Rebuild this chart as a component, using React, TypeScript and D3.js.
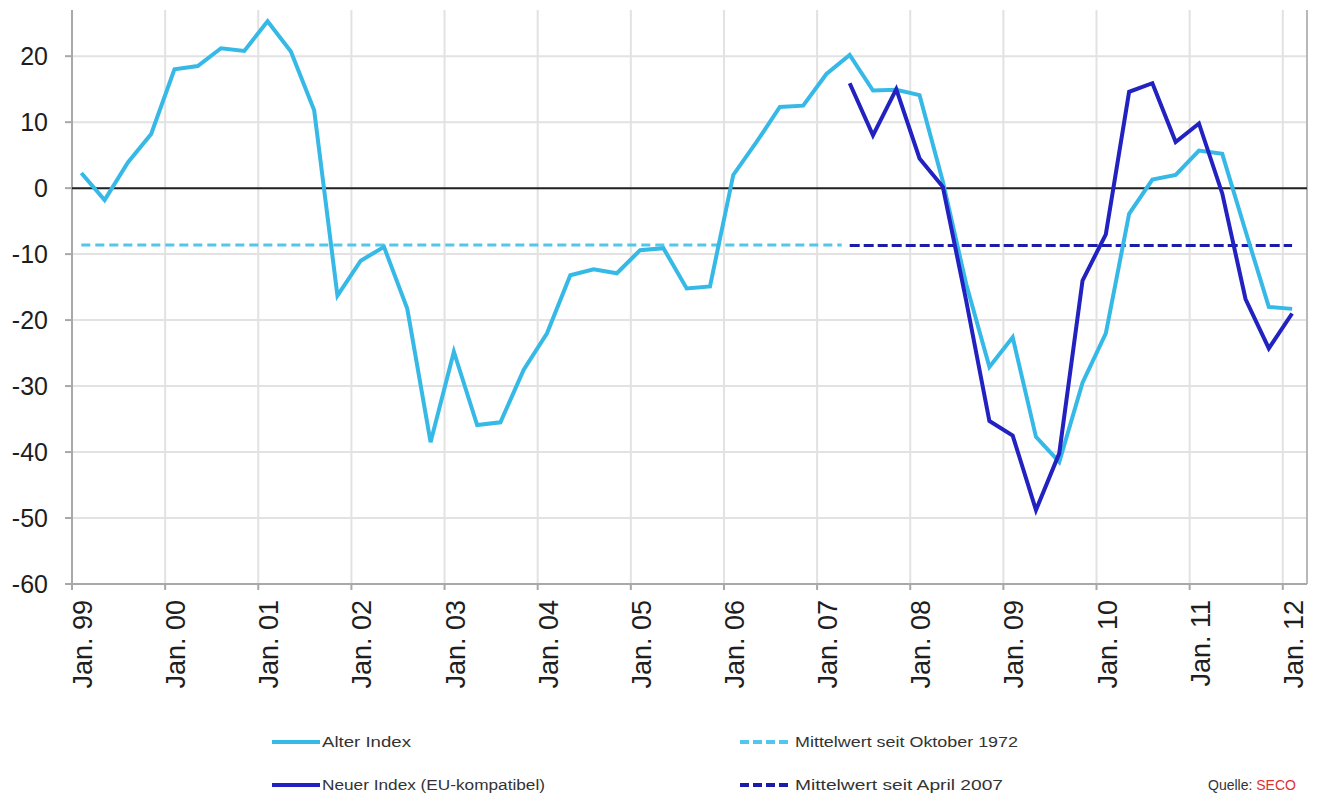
import React from "react";
import * as d3 from "d3";

// Quarterly survey points, Feb 1999 .. Feb 2012 (Feb, May, Aug, Nov)
const firstYear = 1999;
const firstOffset = 0.1; // Feb
const alterIndex = [
  2.3, -1.8, 3.9, 8.2, 18.0, 18.5, 21.2, 20.8, 25.3, 20.7,
  11.8, -16.3, -11.0, -8.9, -18.3, -38.5, -24.8, -35.9, -35.5, -27.5,
  -22.0, -13.2, -12.3, -12.9, -9.4, -9.1, -15.2, -14.9, 2.0, 7.0,
  12.3, 12.5, 17.3, 20.2, 14.8, 14.9, 14.1, 1.0, -14.5, -27.1,
  -22.6, -37.7, -41.5, -29.5, -22.0, -3.9, 1.3, 2.0, 5.7, 5.2,
  -6.5, -18.0, -18.3,
];
const neuerStartIndex = 33; // May 2007
const neuerIndex = [
  15.9, 8.0, 15.0, 4.5, 0.2, -17.0, -35.3, -37.5, -48.8, -40.2,
  -14.0, -7.0, 14.6, 15.9, 7.0, 9.8, -0.8, -16.8, -24.3, -19.0,
];
const meanSince1972 = -8.6;
const meanSince2007 = -8.7;

const yTicks = [20, 10, 0, -10, -20, -30, -40, -50, -60];
const xTickYears = [1999, 2000, 2001, 2002, 2003, 2004, 2005, 2006, 2007, 2008, 2009, 2010, 2011, 2012];
const xTickLabels = ["Jan. 99", "Jan. 00", "Jan. 01", "Jan. 02", "Jan. 03", "Jan. 04", "Jan. 05", "Jan. 06", "Jan. 07", "Jan. 08", "Jan. 09", "Jan. 10", "Jan. 11", "Jan. 12"];

const legendItems = [
  { label: "Alter Index", kind: "alter" },
  { label: "Neuer Index (EU-kompatibel)", kind: "neuer" },
  { label: "Mittelwert seit Oktober 1972", kind: "mean1972" },
  { label: "Mittelwert seit April 2007", kind: "mean2007" },
];

const C_ALTER = "#36b9e6";
const C_NEUER = "#2222c0";
const C_MEAN1 = "#52c6ec";
const C_MEAN2 = "#1c1cab";
const FONT = "'Liberation Sans', Arial, sans-serif";

export default function App() {
  const W = 1319, H = 794;
  const left = 72, right = 1307, top = 10, bottom = 584;

  const x = d3.scaleLinear().domain([1999, 2012.26]).range([left, right]);
  const y = d3.scaleLinear().domain([-60, 27]).range([bottom, top]);

  const tOf = (i: number) => firstYear + firstOffset + 0.25 * i;

  const alterPts: [number, number][] = alterIndex.map((v, i) => [tOf(i), v]);
  const neuerPts: [number, number][] = neuerIndex.map((v, i) => [tOf(i + neuerStartIndex), v]);

  const line = d3.line<[number, number]>().x((d) => x(d[0])).y((d) => y(d[1]));

  const t0 = tOf(0);
  const tN = tOf(neuerStartIndex);
  const tEnd = tOf(alterIndex.length - 1);

  const legendRows = [742, 785];
  const legendCols = [272, 740];
  const legendTextLen: Record<string, number> = {
    alter: 89, neuer: 223, mean1972: 223, mean2007: 208,
  };

  return (
    <div style={{ position: "fixed", left: 0, top: 0, width: W, height: H, overflow: "hidden", background: "#fff" }}>
      <svg width={W} height={H} style={{ display: "block" }} fontFamily={FONT}>
        <rect x={0} y={0} width={W} height={H} fill="#fff" />
        {/* horizontal gridlines */}
        {yTicks.map((t) => (
          <line key={"hg" + t} x1={left} x2={right} y1={y(t)} y2={y(t)} stroke="#e2e2e2" strokeWidth={2} />
        ))}
        {/* vertical gridlines */}
        {xTickYears.map((yr) => (
          <line key={"vg" + yr} x1={x(yr)} x2={x(yr)} y1={top} y2={bottom} stroke="#e2e2e2" strokeWidth={2} />
        ))}
        {/* axes */}
        <line x1={left} x2={left} y1={top} y2={bottom} stroke="#a8a8a8" strokeWidth={2} />
        <line x1={right} x2={right} y1={top} y2={bottom} stroke="#b8b8b8" strokeWidth={2} />
        <line x1={left - 7} x2={right} y1={bottom} y2={bottom} stroke="#a8a8a8" strokeWidth={2} />
        {yTicks.map((t) => (
          <line key={"yt" + t} x1={left - 7} x2={left} y1={y(t)} y2={y(t)} stroke="#a8a8a8" strokeWidth={2} />
        ))}
        {xTickYears.map((yr) => (
          <line key={"xt" + yr} x1={x(yr)} x2={x(yr)} y1={bottom} y2={bottom + 6} stroke="#a8a8a8" strokeWidth={2} />
        ))}
        {/* zero line */}
        <line x1={left} x2={right} y1={y(0)} y2={y(0)} stroke="#222" strokeWidth={2} />

        {/* mean lines */}
        <line x1={x(t0)} x2={x(tN) - 8} y1={y(meanSince1972)} y2={y(meanSince1972)} stroke={C_MEAN1} strokeWidth={3} strokeDasharray="9 5" />
        <line x1={x(tN)} x2={x(tEnd)} y1={y(meanSince2007)} y2={y(meanSince2007)} stroke={C_MEAN2} strokeWidth={3} strokeDasharray="10 4" />

        {/* series */}
        <path d={line(alterPts) || ""} fill="none" stroke={C_ALTER} strokeWidth={4} strokeLinejoin="miter" />
        <path d={line(neuerPts) || ""} fill="none" stroke={C_NEUER} strokeWidth={4} strokeLinejoin="miter" />

        {/* y labels */}
        {yTicks.map((t) => (
          <text key={"yl" + t} x={48} y={y(t)} textAnchor="end" dominantBaseline="central" fontSize={25} fill="#1e1e1e">
            {t}
          </text>
        ))}
        {/* x labels */}
        {xTickYears.map((yr, i) => (
          <text key={"xl" + yr} transform={`translate(${x(yr) + 11},${600}) rotate(-90)`} textAnchor="end" dominantBaseline="central" fontSize={27} fill="#1e1e1e">
            {xTickLabels[i]}
          </text>
        ))}

        {/* legend */}
        {legendItems.map((it, i) => {
          const col = i < 2 ? 0 : 1;
          const row = i % 2;
          const lx = legendCols[col];
          const ly = legendRows[row];
          const color = it.kind === "alter" ? C_ALTER : it.kind === "neuer" ? C_NEUER : it.kind === "mean1972" ? C_MEAN1 : C_MEAN2;
          const dashed = it.kind === "mean1972" || it.kind === "mean2007";
          const tx = dashed ? lx + 55 : lx + 50;
          return (
            <g key={it.label}>
              <line x1={lx} x2={lx + (dashed ? 52 : 48)} y1={ly} y2={ly} stroke={color} strokeWidth={4} strokeDasharray={dashed ? "9 4" : undefined} />
              <text x={tx} y={ly} dominantBaseline="central" fontSize={14} fill="#333" textLength={legendTextLen[it.kind]} lengthAdjust="spacingAndGlyphs">
                {it.label}
              </text>
            </g>
          );
        })}

        {/* source */}
        <text x={1208} y={790} fontSize={14} fill="#333">
          Quelle: <tspan fill="#e03030">SECO</tspan>
        </text>
      </svg>
    </div>
  );
}
